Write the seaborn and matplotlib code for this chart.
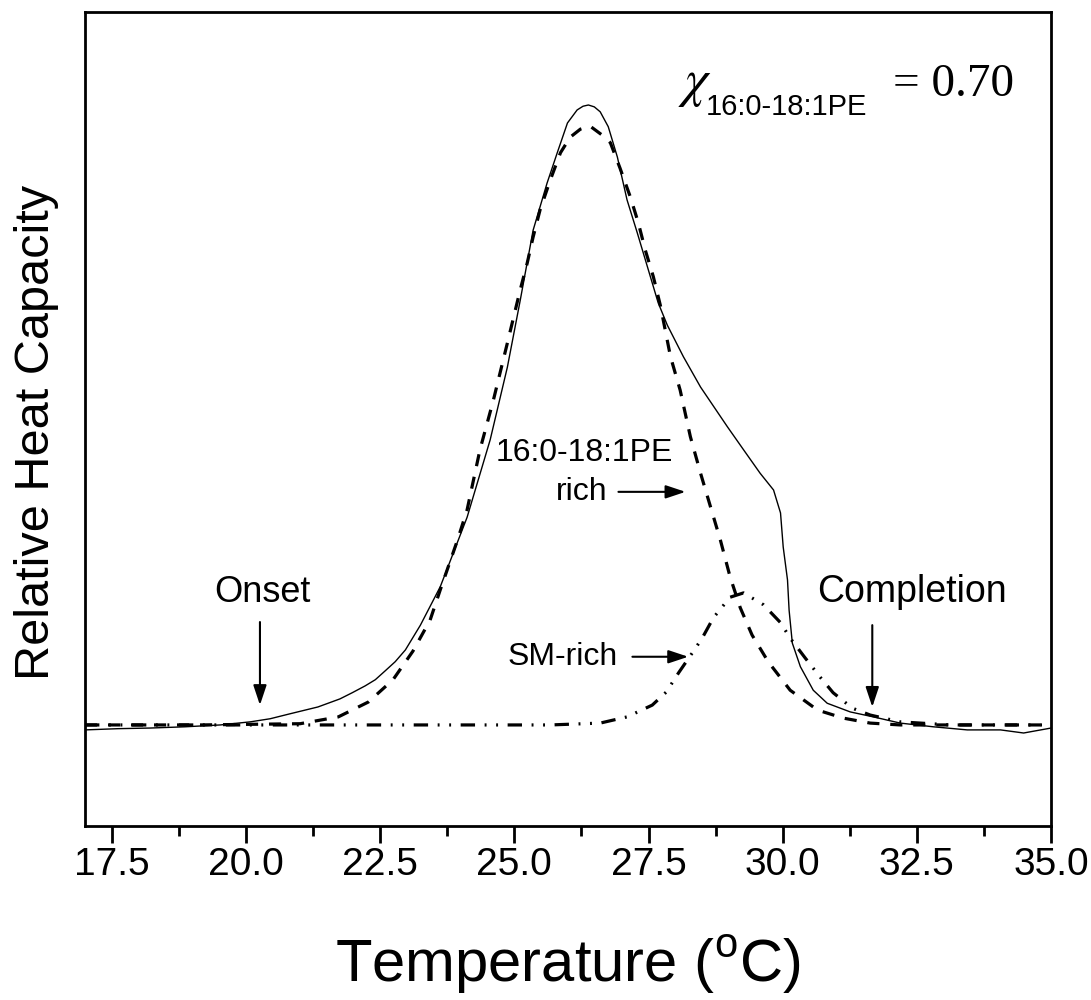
import numpy as np
import pandas as pd
import matplotlib
matplotlib.use("Agg")
import matplotlib.pyplot as plt
from matplotlib.ticker import MultipleLocator
import seaborn as sns

# total measured curve (solid)
total_T = [17.00, 17.62, 18.21, 18.86, 19.52, 20.08, 20.45, 20.82, 21.34, 21.75,
           21.98, 22.22, 22.41, 22.59, 22.78, 22.97, 23.25, 23.62, 24.12, 24.55,
           24.87, 25.11, 25.35, 25.61, 25.80, 25.99, 26.17, 26.28, 26.38, 26.49,
           26.60, 26.75, 26.92, 27.10, 27.29, 27.48, 27.68, 27.85, 28.15, 28.47,
           28.97, 29.27, 29.58, 29.83, 29.96, 30.01, 30.09, 30.12, 30.18, 30.33,
           30.57, 30.83, 31.26, 31.69, 32.19, 32.81, 33.44, 34.06, 34.49, 35.00]
total_cp = [-0.008, -0.006, -0.005, -0.003, 0.000, 0.005, 0.010, 0.018, 0.029, 0.042,
            0.052, 0.063, 0.073, 0.087, 0.102, 0.121, 0.161, 0.223, 0.335, 0.460,
            0.577, 0.685, 0.798, 0.874, 0.923, 0.971, 0.992, 0.998, 1.000, 0.997,
            0.989, 0.965, 0.916, 0.847, 0.794, 0.739, 0.681, 0.645, 0.594, 0.545,
            0.481, 0.444, 0.406, 0.379, 0.342, 0.287, 0.234, 0.185, 0.132, 0.094,
            0.056, 0.035, 0.021, 0.013, 0.003, -0.003, -0.008, -0.008, -0.013, -0.005]

# 16:0-18:1PE rich component (dashed)
pe_T = [17.00, 19.14, 21.01, 21.72, 22.28, 22.74, 23.11, 23.43, 23.62, 23.94,
        24.12, 24.36, 24.61, 24.87, 25.11, 25.24, 25.35, 25.48, 25.67, 25.86,
        26.04, 26.23, 26.41, 26.69, 26.79, 26.97, 27.16, 27.31, 27.44, 27.59,
        27.72, 27.91, 28.09, 28.28, 28.47, 28.60, 28.84, 29.02, 29.21, 29.43,
        29.73, 30.14, 30.65, 31.13, 31.63, 32.19, 35.00]
pe_cp = [0.000, 0.000, 0.002, 0.013, 0.037, 0.073, 0.119, 0.169, 0.218, 0.298,
         0.347, 0.444, 0.524, 0.616, 0.702, 0.745, 0.787, 0.831, 0.879, 0.923,
         0.948, 0.961, 0.966, 0.948, 0.939, 0.898, 0.852, 0.810, 0.766, 0.723,
         0.677, 0.594, 0.540, 0.465, 0.406, 0.368, 0.298, 0.239, 0.189, 0.145,
         0.102, 0.056, 0.024, 0.011, 0.003, 0.000, 0.000]

# SM rich component (dash-dot-dot)
sm_T = [17.00, 25.67, 26.60, 27.10, 27.57, 27.83, 28.06, 28.33, 28.50, 28.71,
        29.02, 29.27, 29.64, 29.96, 30.14, 30.42, 30.70, 30.94, 31.30, 31.63,
        32.19, 33.13, 35.00]
sm_cp = [0.000, 0.000, 0.003, 0.013, 0.032, 0.053, 0.084, 0.118, 0.140, 0.173,
         0.206, 0.213, 0.194, 0.165, 0.140, 0.108, 0.077, 0.052, 0.027, 0.016,
         0.005, 0.000, 0.000]

xticks = [17.5, 20.0, 22.5, 25.0, 27.5, 30.0, 32.5, 35.0]

sns.set_style("white")
plt.rcParams['font.family'] = ['Liberation Sans', 'DejaVu Sans']
plt.rcParams['mathtext.fontset'] = 'custom'
plt.rcParams['mathtext.rm'] = 'Liberation Sans'
plt.rcParams['mathtext.sf'] = 'Liberation Sans'
plt.rcParams['text.color'] = 'black'
plt.rcParams['axes.labelcolor'] = 'black'
plt.rcParams['xtick.color'] = 'black'
plt.rcParams['ytick.color'] = 'black'

fig = plt.figure(figsize=(10.91, 10.0), dpi=100)
ax = fig.add_axes([85 / 1091, 0.174, (1051 - 85) / 1091, 0.814])

sns.lineplot(x=total_T, y=total_cp, ax=ax, color='black', lw=1.0,
             estimator=None, sort=False)
sns.lineplot(x=pe_T, y=pe_cp, ax=ax, color='black', lw=2.3,
             estimator=None, sort=False)
ax.lines[-1].set_dashes((3.8, 3.4))
sns.lineplot(x=sm_T, y=sm_cp, ax=ax, color='black', lw=2.3,
             estimator=None, sort=False)
ax.lines[-1].set_dashes((4.5, 3.0, 0.6, 3.0, 0.6, 3.0))

ax.set_xlim(17.0, 35.0)
ax.set_ylim(-0.163, 1.150)
ax.set_xticks(xticks)
ax.set_xticklabels([f"{t:.1f}" for t in xticks])
ax.xaxis.set_minor_locator(MultipleLocator(1.25))
ax.set_yticks([])
ax.tick_params(axis='x', which='major', direction='out', length=12, width=2,
               labelsize=28, pad=3, bottom=True)
ax.tick_params(axis='x', which='minor', direction='out', length=7, width=2,
               bottom=True)
for s in ax.spines.values():
    s.set_linewidth(2)
    s.set_color('black')

ax.set_xlabel(r'Temperature ($^{\mathrm{o}}$C)', fontsize=43, labelpad=36)
ax.set_ylabel('Relative Heat Capacity', fontsize=35, labelpad=19)
ax.yaxis.label.set_y(0.484)

arrow = dict(arrowstyle='-|>,head_length=0.6,head_width=0.2', color='black',
             lw=1.5, mutation_scale=20, shrinkA=0, shrinkB=0)
ax.annotate('', xy=(20.26, 0.032), xytext=(20.26, 0.166), arrowprops=arrow)
ax.text(20.30, 0.213, 'Onset', fontsize=26, ha='center', va='center')
ax.annotate('', xy=(31.67, 0.029), xytext=(31.67, 0.161), arrowprops=arrow)
ax.text(32.40, 0.215, 'Completion', fontsize=27, ha='center', va='center')

ax.text(26.30, 0.439, '16:0-18:1PE', fontsize=23, ha='center', va='center')
ax.text(26.73, 0.376, 'rich', fontsize=23, ha='right', va='center')
ax.annotate('', xy=(28.19, 0.376), xytext=(26.94, 0.376), arrowprops=arrow)
ax.text(26.92, 0.110, 'SM-rich', fontsize=23, ha='right', va='center')
ax.annotate('', xy=(28.24, 0.110), xytext=(27.20, 0.110), arrowprops=arrow)

fig.text(678 / 1091, 1 - 96 / 1000, r'$\chi$', fontsize=38,
         math_fontfamily='stix', ha='left', va='baseline')
fig.text(706 / 1091, 1 - 115 / 1000, '16:0-18:1PE', fontsize=21,
         ha='left', va='baseline')
fig.text(893 / 1091, 1 - 96 / 1000, '= 0.70', fontsize=34,
         family='Liberation Serif', ha='left', va='baseline')

fig.savefig('out.png', dpi=100)
